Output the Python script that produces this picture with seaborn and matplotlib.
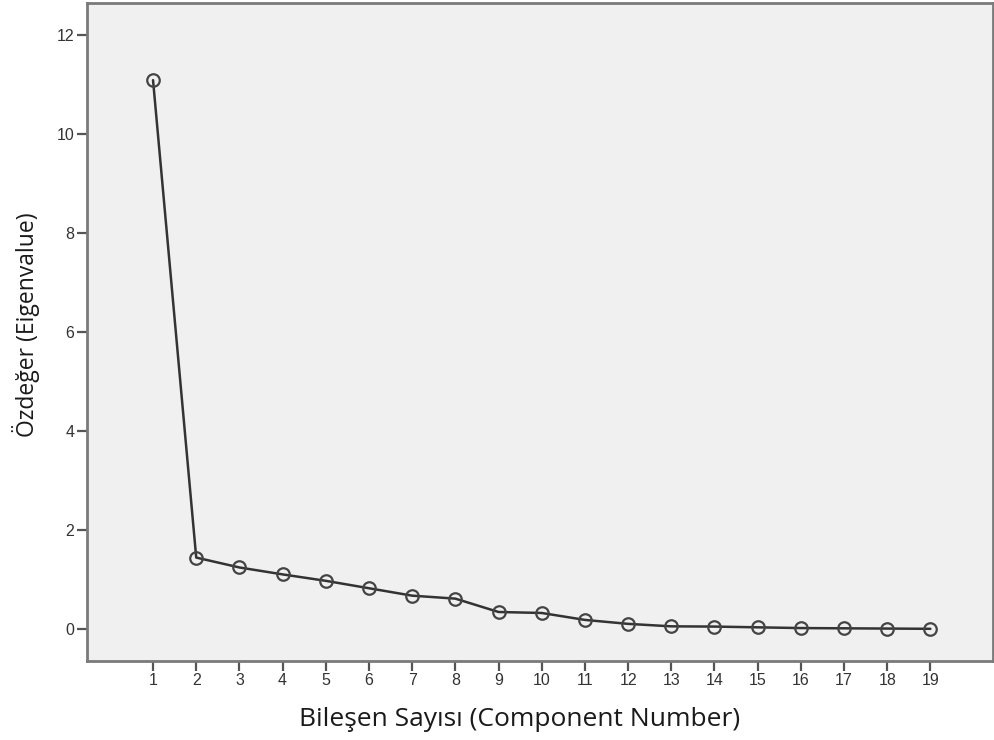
import numpy as np
import pandas as pd
import matplotlib
matplotlib.use("Agg")
import matplotlib.pyplot as plt
import seaborn as sns

# Scree plot values
components = list(range(1, 20))
eigenvalues = [11.09, 1.44, 1.24, 1.10, 0.97, 0.82, 0.67, 0.61, 0.34, 0.32,
               0.18, 0.10, 0.05, 0.045, 0.03, 0.015, 0.01, 0.005, 0.0]
y_ticks = [0, 2, 4, 6, 8, 10, 12]

x_label = "Bileşen Sayısı (Component Number)"
y_label = "Özdeğer (Eigenvalue)"


def main():
    sns.set_theme(style="ticks")
    plt.rcParams['font.family'] = ['Liberation Sans', 'DejaVu Sans']

    df = pd.DataFrame({"Component": components, "Eigenvalue": eigenvalues})

    fig = plt.figure(figsize=(9.95, 7.4), dpi=100)
    ax = fig.add_axes([0.0874, 0.1068, 0.9106, 0.8892])
    ax.set_facecolor('#f0f0f0')

    sns.lineplot(data=df, x="Component", y="Eigenvalue", ax=ax,
                 color='#333333', linewidth=1.8, marker='o', markersize=9,
                 markerfacecolor='none', markeredgecolor='#444444',
                 markeredgewidth=1.6)

    ax.set_xlim(-0.53, 20.45)
    ax.set_ylim(-0.65, 12.65)
    ax.set_xticks(components)
    ax.set_yticks(y_ticks)
    ax.tick_params(axis='both', direction='out', length=7, width=1.6,
                   color='#555555', labelsize=11.5, labelcolor='#333333', pad=2)

    for side in ['left', 'bottom', 'top', 'right']:
        ax.spines[side].set_visible(True)
        ax.spines[side].set_color('#7a7a7a')
        ax.spines[side].set_linewidth(2)

    ax.set_xlabel(x_label, family=['Open Sans', 'DejaVu Sans'], fontsize=19,
                  color='#1a1a1a', va='center')
    ax.set_ylabel(y_label, family=['Open Sans', 'DejaVu Sans'], fontsize=16.5,
                  color='#1a1a1a', va='center')
    # SPSS-style label placement (slightly off the axes centre)
    ax.xaxis.set_label_coords(0.478, -0.089)
    ax.yaxis.set_label_coords(-0.067, 0.511)

    fig.savefig("out.png", dpi=100)


if __name__ == "__main__":
    main()
